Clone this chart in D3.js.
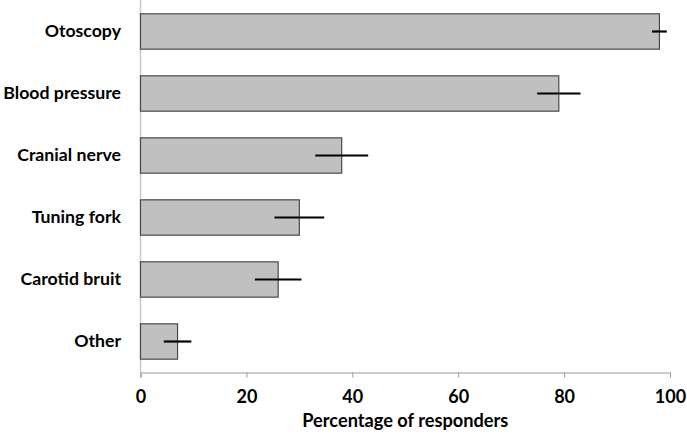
<!DOCTYPE html>
<html>
<head>
<meta charset="utf-8">
<script src="https://cdn.jsdelivr.net/npm/d3@7"></script>
<style>
  html, body { margin: 0; padding: 0; background: #fff; }
  svg { display: block; }
  text { font-family: Lato, "Open Sans", sans-serif; font-weight: bold; fill: #000; }
</style>
</head>
<body>
<svg id="chart" width="687" height="434"></svg>
<script>
const categories = ["Otoscopy", "Blood pressure", "Cranial nerve", "Tuning fork", "Carotid bruit", "Other"];
const values = [98, 79, 38, 30, 26, 7];
const errors = [1.4, 4.1, 5, 4.7, 4.4, 2.6];
const xTicks = [0, 20, 40, 60, 80, 100];
const xTitle = "Percentage of responders";

(function () {
const svg = d3.select("#chart");
const mLeft = 140.5, mRight = 670, mTop = 0.5, mBottom = 372.5;
const fam = "Lato, 'Open Sans', sans-serif";

const x = d3.scaleLinear().domain([0, 100]).range([mLeft, mRight]);
const y = d3.scaleBand().domain(categories).range([mTop, mBottom]).paddingInner(0.43).paddingOuter(0.215);

const data = categories.map((c, i) => ({ c, v: values[i], e: errors[i] }));

// y axis line
svg.append("line")
  .attr("x1", mLeft).attr("x2", mLeft)
  .attr("y1", 0).attr("y2", mBottom)
  .attr("stroke", "#c8c8c8").attr("stroke-width", 1.5);

// bars
svg.append("g").selectAll("rect").data(data).join("rect")
  .attr("x", x(0))
  .attr("y", d => y(d.c))
  .attr("width", d => x(d.v) - x(0))
  .attr("height", y.bandwidth())
  .attr("fill", "#c0c0c0")
  .attr("stroke", "#4a4a4a")
  .attr("stroke-width", 1.2);

// error bars
svg.append("g").selectAll("line").data(data).join("line")
  .attr("x1", d => x(d.v - d.e))
  .attr("x2", d => x(d.v + d.e))
  .attr("y1", d => y(d.c) + y.bandwidth() / 2)
  .attr("y2", d => y(d.c) + y.bandwidth() / 2)
  .attr("stroke", "#000").attr("stroke-width", 2.2);

// x axis
const xAxis = d3.axisBottom(x).tickValues(xTicks).tickSize(5).tickPadding(13).tickFormat(d3.format("d"));
const gx = svg.append("g").attr("transform", `translate(0,${mBottom})`).call(xAxis);
gx.select(".domain").attr("stroke", "#999").attr("stroke-width", 1);
gx.selectAll(".tick line").attr("stroke", "#999");
gx.selectAll(".tick text").attr("font-size", 18).attr("font-family", fam).attr("font-weight", "bold").attr("fill", "#000");

// y labels
const yAxis = d3.axisLeft(y).tickSize(0).tickPadding(mLeft - 121);
const gy = svg.append("g").attr("transform", `translate(${mLeft},0)`).call(yAxis);
gy.select(".domain").remove();
gy.selectAll(".tick text").attr("font-size", 17.7).attr("font-family", fam).attr("font-weight", "bold").attr("fill", "#000");

// x title
svg.append("text")
  .attr("x", (mLeft + mRight) / 2)
  .attr("y", 427)
  .attr("text-anchor", "middle")
  .attr("font-size", 18.2)
  .attr("font-family", fam)
  .text(xTitle);
})();
</script>
</body>
</html>
